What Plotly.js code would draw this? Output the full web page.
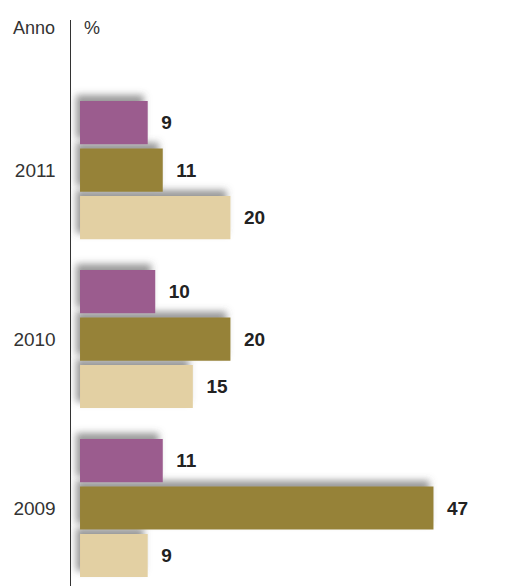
<!DOCTYPE html>
<html>
<head>
<meta charset="utf-8">
<script src="https://cdn.plot.ly/plotly-3.0.1.min.js"></script>
<style>
  html, body { margin: 0; padding: 0; background: #fff; }
  #chart { width: 528px; height: 586px; }
</style>
</head>
<body>
<div id="chart"></div>
<script>
// Data
const years = ["2009", "2010", "2011"];
const serieViola = [11, 10, 9];     // top bar in each group
const serieOliva = [47, 20, 11];    // middle bar
const serieBeige = [9, 15, 20];     // bottom bar
const axisTitleLeft = "Anno";
const axisTitleRight = "%";

const colors = { viola: "#9b5b8e", oliva: "#968238", beige: "#e3d0a3" };

function barTrace(vals, color, name) {
  return {
    type: "bar",
    orientation: "h",
    name: name,
    y: years,
    x: vals,
    marker: { color: color, line: { width: 0 } },
    texttemplate: "\u00a0\u00a0%{x}",
    textposition: "outside",
    cliponaxis: false,
    textfont: { family: "Liberation Sans, Arial, sans-serif", size: 19, color: "#222", weight: "bold" },
    hoverinfo: "skip"
  };
}

// first trace is drawn lowest in each group
const data = [
  barTrace(serieBeige, colors.beige, "c"),
  barTrace(serieOliva, colors.oliva, "b"),
  barTrace(serieViola, colors.viola, "a")
];

const layout = {
  width: 528,
  height: 586,
  margin: { l: 71, r: 0, t: 20, b: 0 },
  paper_bgcolor: "#fff",
  plot_bgcolor: "#fff",
  showlegend: false,
  barmode: "group",
  bargap: 0.157,
  bargroupgap: 0.09,
  xaxis: { visible: false, range: [-1.2, 59.57], fixedrange: true },
  yaxis: {
    type: "category",
    range: [-0.4615, 2.888],
    showline: true,
    linecolor: "#333",
    linewidth: 1.5,
    showgrid: false,
    zeroline: false,
    ticks: "",
    ticklabelstandoff: 10,
    tickfont: { family: "Liberation Sans, Arial, sans-serif", size: 19, color: "#333" }
  },
  annotations: [
    { text: axisTitleLeft, xref: "paper", yref: "paper", x: -0.03, y: 0.986,
      xanchor: "right", yanchor: "middle", showarrow: false,
      font: { family: "Liberation Sans, Arial, sans-serif", size: 18, color: "#333" } },
    { text: axisTitleRight, xref: "paper", yref: "paper", x: 0.024, y: 0.986,
      xanchor: "left", yanchor: "middle", showarrow: false,
      font: { family: "Liberation Sans, Arial, sans-serif", size: 18, color: "#333" } }
  ]
};

Plotly.newPlot("chart", data, layout, { staticPlot: true, displayModeBar: false }).then(function (gd) {
  const svg = gd.querySelector("svg.main-svg");
  const ns = "http://www.w3.org/2000/svg";
  let defs = svg.querySelector("defs");
  if (!defs) { defs = document.createElementNS(ns, "defs"); svg.insertBefore(defs, svg.firstChild); }
  const filter = document.createElementNS(ns, "filter");
  filter.setAttribute("id", "barShadow");
  filter.setAttribute("x", "-20%");
  filter.setAttribute("y", "-60%");
  filter.setAttribute("width", "140%");
  filter.setAttribute("height", "220%");
  const ds = document.createElementNS(ns, "feDropShadow");
  ds.setAttribute("dx", "-4");
  ds.setAttribute("dy", "-6");
  ds.setAttribute("stdDeviation", "3.5");
  ds.setAttribute("flood-color", "#555");
  ds.setAttribute("flood-opacity", "0.6");
  filter.appendChild(ds);
  defs.appendChild(filter);
  gd.querySelectorAll(".barlayer .point path").forEach(function (p) {
    p.setAttribute("filter", "url(#barShadow)");
  });
});
</script>
</body>
</html>
